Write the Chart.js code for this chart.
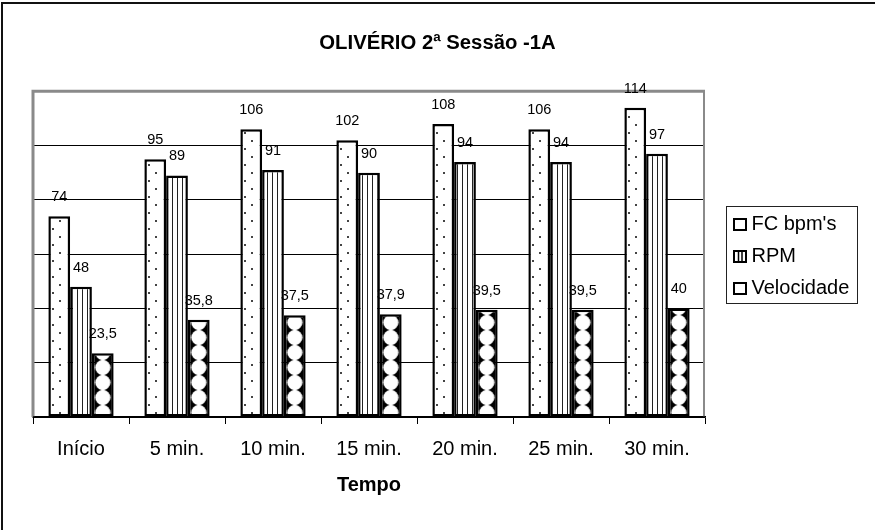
<!DOCTYPE html>
<html>
<head>
<meta charset="utf-8">
<script src="https://cdn.jsdelivr.net/npm/chart.js@4"></script>
<style>
  html, body { margin: 0; padding: 0; background: #fff; }
</style>
</head>
<body>
<canvas id="grafico" width="875" height="530"></canvas>
<script>
// dados
const categorias = ['Início', '5 min.', '10 min.', '15 min.', '20 min.', '25 min.', '30 min.'];
const fcBpm = [74, 95, 106, 102, 108, 106, 114];
const rpm = [48, 89, 91, 90, 94, 94, 97];
const velocidade = [23.5, 35.8, 37.5, 37.9, 39.5, 39.5, 40];
const nomesSeries = ["FC bpm's", 'RPM', 'Velocidade'];
const titulo = 'OLIVÉRIO 2ª Sessão -1A';
const tituloEixoX = 'Tempo';

const FONTE = '"Liberation Sans", Arial, sans-serif';
Chart.defaults.font.family = FONTE;
Chart.defaults.color = '#000';

// padrões de preenchimento (estilo Excel preto e branco)
function ladrilho(w, h, desenha) {
  const c = document.createElement('canvas');
  c.width = w; c.height = h;
  desenha(c.getContext('2d'));
  return c;
}
const ctx = document.getElementById('grafico').getContext('2d');

const padPontos = ctx.createPattern(ladrilho(16, 16, g => {
  g.fillStyle = '#fff'; g.fillRect(0, 0, 16, 16);
  g.fillStyle = '#444';
  g.fillRect(4, 4, 2, 2);
  g.fillRect(11, 12, 2, 2);
}), 'repeat');

const padListras = ctx.createPattern(ladrilho(5, 4, g => {
  g.fillStyle = '#fff'; g.fillRect(0, 0, 5, 4);
  g.fillStyle = '#222'; g.fillRect(2, 0, 1, 4);
}), 'repeat');

const padCirculos = ctx.createPattern(ladrilho(16, 15, g => {
  g.fillStyle = '#000'; g.fillRect(0, 0, 16, 15);
  g.fillStyle = '#fff';
  g.beginPath(); g.arc(8, 7.5, 7.6, 0, Math.PI * 2); g.fill();
}), 'repeat');

const preenchimentos = [padPontos, padListras, padCirculos];

// fundo branco + moldura externa
const fundo = {
  id: 'fundo',
  beforeDraw(chart) {
    const c = chart.ctx;
    c.save();
    c.fillStyle = '#fff';
    c.fillRect(0, 0, chart.width, chart.height);
    c.restore();
  },
  afterDraw(chart) {
    const c = chart.ctx;
    c.save();
    c.strokeStyle = '#111';
    c.lineWidth = 2;
    c.beginPath();
    c.moveTo(2, chart.height); c.lineTo(2, 3); c.lineTo(chart.width, 3);
    c.stroke();
    c.restore();
  }
};

// borda cinza da área de plotagem
const moldura = {
  id: 'moldura',
  beforeDatasetsDraw(chart) {
    const a = chart.chartArea, c = chart.ctx;
    c.save();
    c.strokeStyle = '#8a8a8a';
    c.lineWidth = 3;
    c.beginPath();
    c.moveTo(a.left, a.bottom); c.lineTo(a.left, a.top); c.lineTo(a.right, a.top);
    c.stroke();
    c.lineWidth = 2;
    c.beginPath();
    c.moveTo(a.right - 1, a.top); c.lineTo(a.right - 1, a.bottom);
    c.stroke();
    c.restore();
    // alinha os círculos com o centro das barras de velocidade
    const barra = chart.getDatasetMeta(2).data[0];
    if (barra) padCirculos.setTransform(new DOMMatrix([1, 0, 0, 1, barra.x - 8, 0]));
  },
  afterDatasetsDraw(chart) {
    const a = chart.chartArea, c = chart.ctx;
    c.save();
    c.strokeStyle = '#000';
    c.lineWidth = 1.5;
    c.beginPath();
    c.moveTo(a.left, a.bottom); c.lineTo(a.right, a.bottom);
    c.stroke();
    c.restore();
  }
};

// rótulos de dados acima das barras
const rotulos = {
  id: 'rotulos',
  afterDatasetsDraw(chart) {
    const c = chart.ctx;
    c.save();
    c.font = '14.5px ' + FONTE;
    c.fillStyle = '#000';
    c.textAlign = 'center';
    c.textBaseline = 'alphabetic';
    chart.data.datasets.forEach((ds, i) => {
      chart.getDatasetMeta(i).data.forEach((barra, j) => {
        c.fillText(String(ds.data[j]).replace('.', ','), barra.x, barra.y - 15);
      });
    });
    c.restore();
  }
};

// legenda com caixa, à direita
const legenda = {
  id: 'legenda',
  afterDraw(chart) {
    const a = chart.chartArea, c = chart.ctx;
    const x = a.right + 21.5, w = 131, h = 97;
    const y = Math.round((a.top + a.bottom) / 2 - h / 2) + 0.5;
    c.save();
    c.strokeStyle = '#222';
    c.lineWidth = 1;
    c.strokeRect(x, y, w, h);
    c.font = '20px ' + FONTE;
    c.fillStyle = '#000';
    c.textBaseline = 'alphabetic';
    nomesSeries.forEach((nome, i) => {
      const base = y + 23.5 + i * 32;
      const ix = x + 7.5, iy = base - 11;
      c.fillStyle = '#fff';
      c.fillRect(ix, iy, 12, 11);
      c.strokeStyle = '#000';
      c.lineWidth = 2;
      c.strokeRect(ix, iy, 12, 11);
      if (i === 1) {
        c.lineWidth = 1.5;
        c.beginPath();
        c.moveTo(ix + 4.5, iy); c.lineTo(ix + 4.5, iy + 11);
        c.moveTo(ix + 8, iy); c.lineTo(ix + 8, iy + 11);
        c.stroke();
      }
      c.fillStyle = '#000';
      c.fillText(nome, x + 25, base);
    });
    c.restore();
  }
};

new Chart(ctx, {
  type: 'bar',
  data: {
    labels: categorias,
    datasets: [fcBpm, rpm, velocidade].map((valores, i) => ({
      label: nomesSeries[i],
      data: valores,
      backgroundColor: preenchimentos[i],
      borderColor: '#000',
      borderWidth: 2.5,
      borderSkipped: false,
      barPercentage: 1,
      categoryPercentage: 0.68
    }))
  },
  options: {
    responsive: false,
    animation: false,
    devicePixelRatio: 1,
    layout: { padding: 0 },
    plugins: {
      legend: { display: false },
      tooltip: { enabled: false },
      title: {
        display: true,
        text: titulo,
        color: '#000',
        font: { size: 20.3, weight: 'bold' },
        padding: { top: 31, bottom: 36 }
      }
    },
    scales: {
      x: {
        grid: { drawOnChartArea: false, drawTicks: true, tickLength: 7, color: '#000', lineWidth: 1 },
        border: { display: true, color: '#000', width: 1.5 },
        ticks: { color: '#000', font: { size: 20 }, padding: 13, maxRotation: 0 },
        title: {
          display: true, text: tituloEixoX, color: '#000',
          font: { size: 20, weight: 'bold' }, padding: { top: 0, bottom: 33 }
        },
        afterFit(s) { s.height = 113; }
      },
      y: {
        min: 0, max: 120,
        ticks: { display: false, stepSize: 20 },
        grid: { color: '#000', lineWidth: 1, drawTicks: false },
        border: { display: false },
        afterFit(s) { s.width = 33; }
      },
      direita: {
        position: 'right',
        display: true,
        ticks: { display: false },
        grid: { display: false },
        border: { display: false },
        afterFit(s) { s.width = 170; }
      }
    }
  },
  plugins: [fundo, moldura, rotulos, legenda]
});
</script>
</body>
</html>
